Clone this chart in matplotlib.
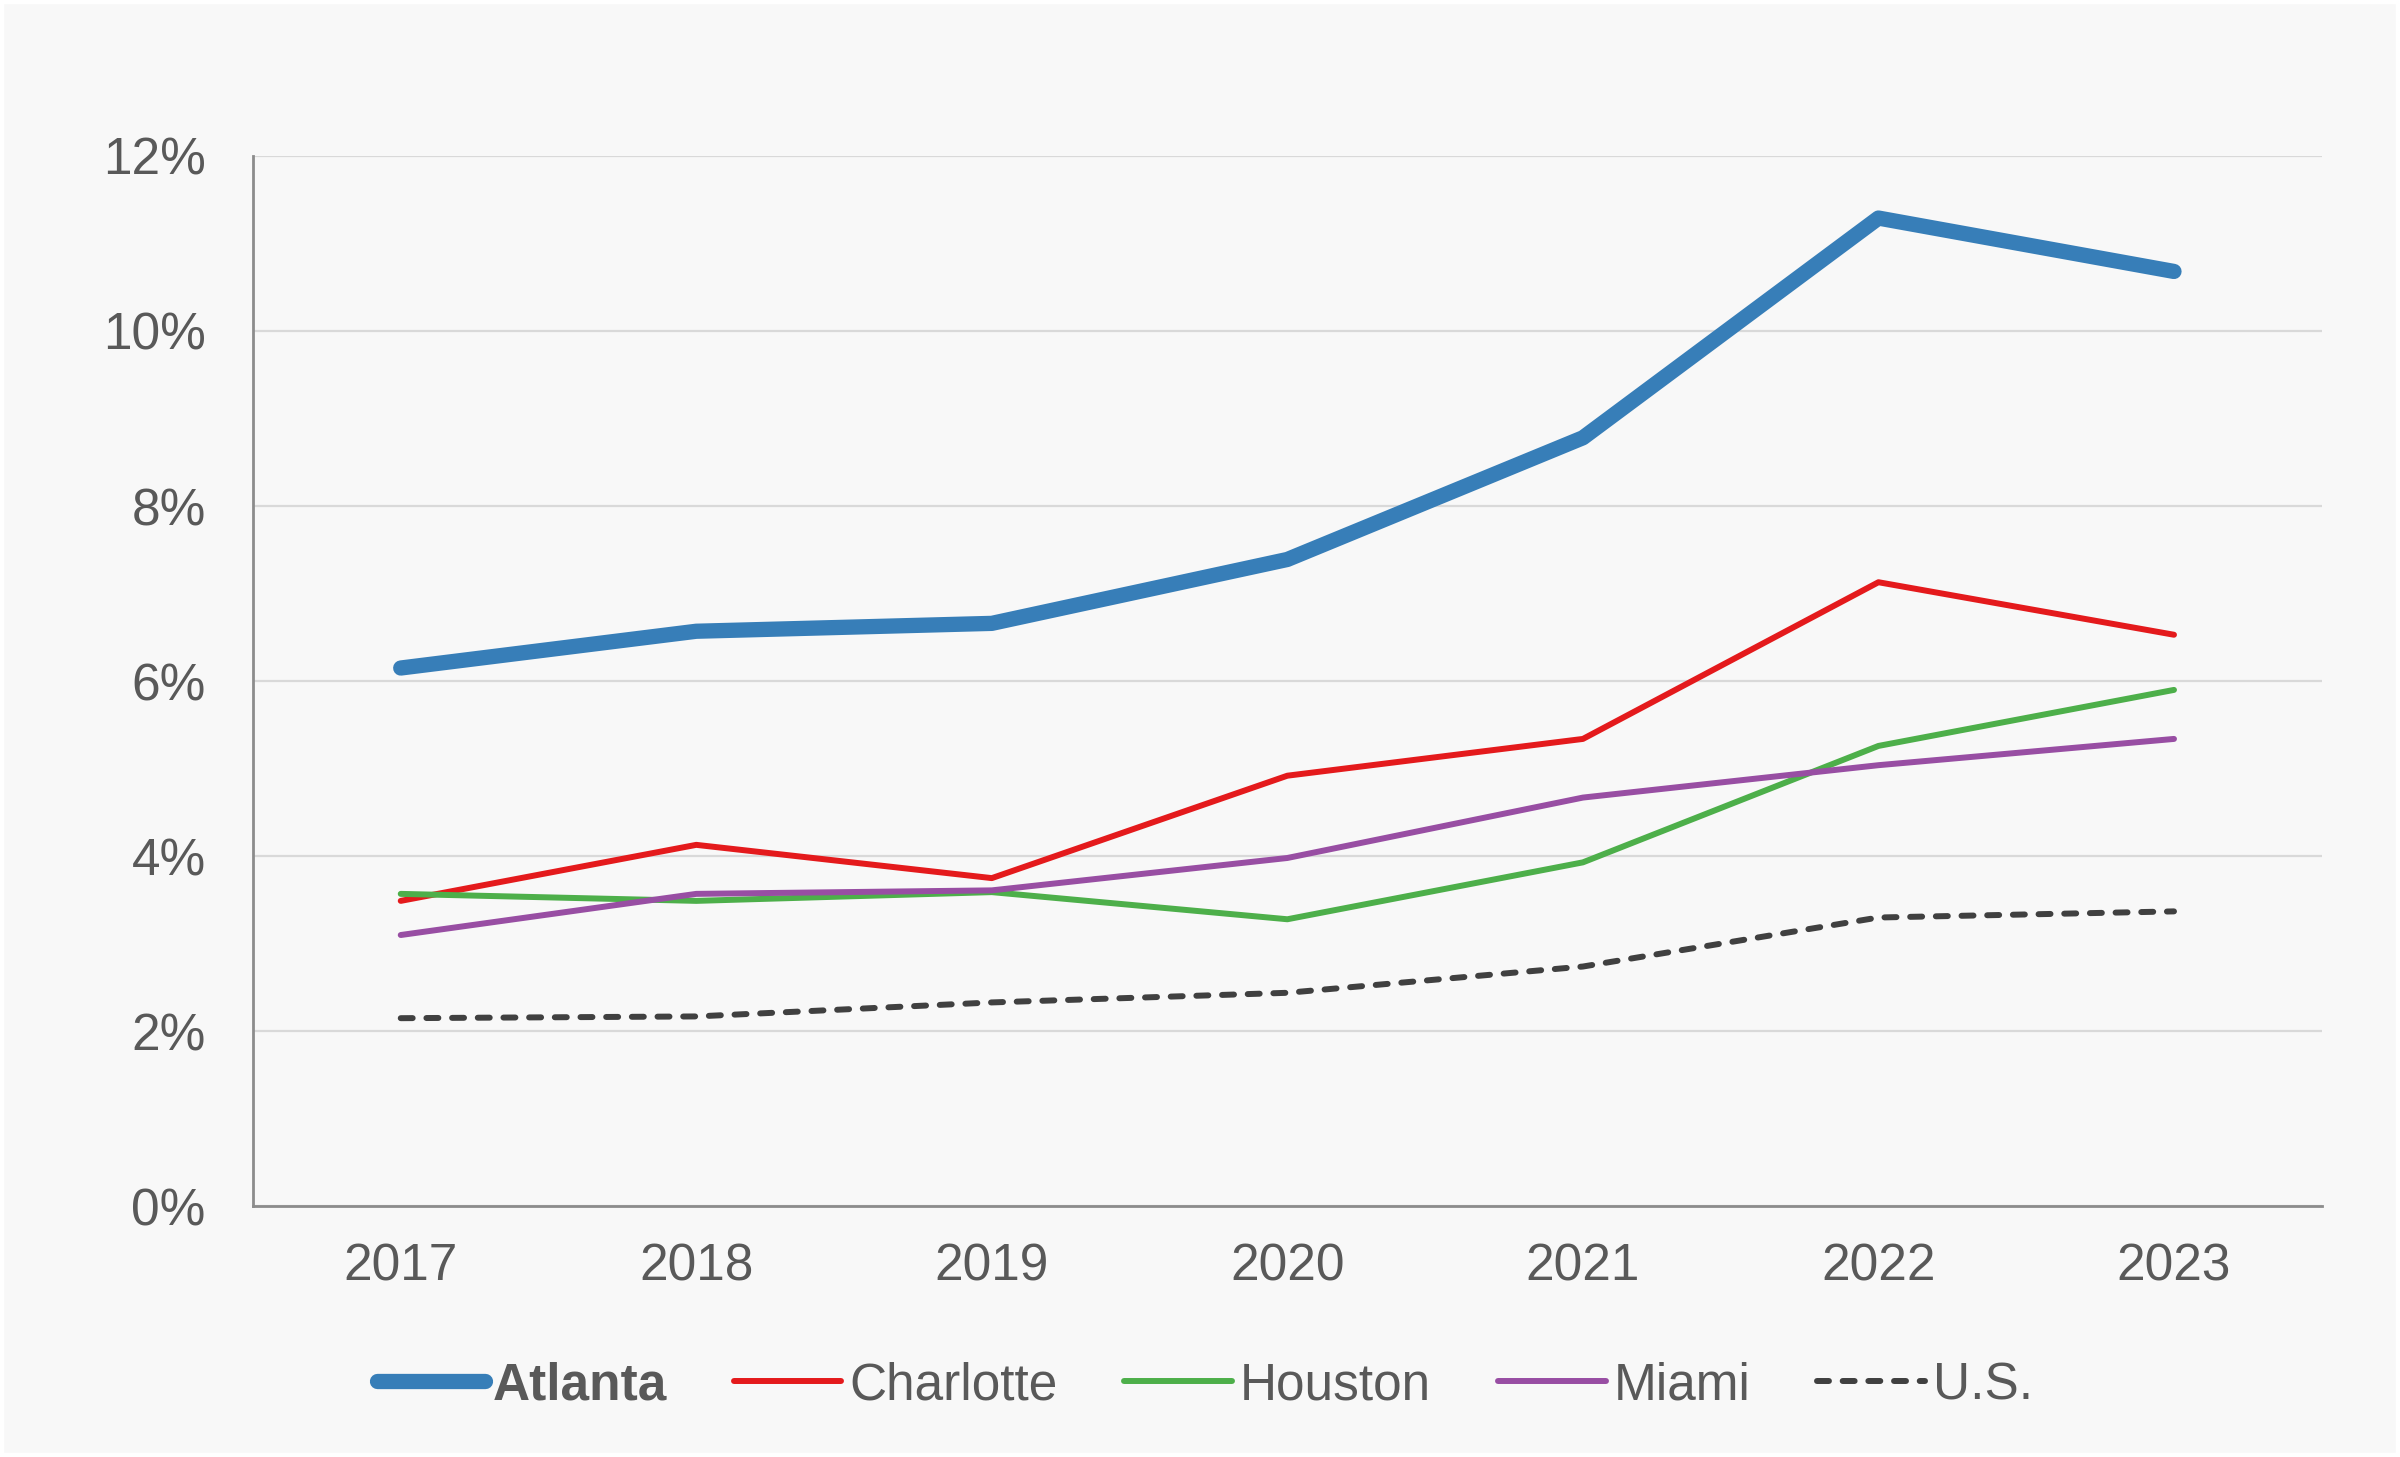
import numpy as np
import matplotlib.pyplot as plt
from matplotlib.ticker import FuncFormatter

plt.rcParams['font.family'] = ['Liberation Sans', 'DejaVu Sans']

years = ['2017', '2018', '2019', '2020', '2021', '2022', '2023']
atlanta = [6.15, 6.57, 6.66, 7.39, 8.78, 11.29, 10.68]
charlotte = [3.49, 4.13, 3.75, 4.92, 5.34, 7.13, 6.53]
houston = [3.57, 3.49, 3.59, 3.28, 3.93, 5.26, 5.90]
miami = [3.10, 3.57, 3.61, 3.98, 4.67, 5.04, 5.34]
us = [2.15, 2.17, 2.33, 2.44, 2.74, 3.30, 3.37]

bg = '#f8f8f8'
txt = '#595959'

fig = plt.figure(figsize=(24, 14.57), dpi=100, facecolor=bg)
ax = fig.add_axes([0.1054, 0.172, 0.862, 0.721])
ax.set_facecolor(bg)

x = np.arange(len(years))
thin = dict(lw=4.3, solid_capstyle='round', solid_joinstyle='round', zorder=4)
ax.plot(x, atlanta, color='#377eb8', lw=11, solid_capstyle='round',
        solid_joinstyle='round', label='Atlanta', zorder=5)
ax.plot(x, charlotte, color='#e41a1c', label='Charlotte', **thin)
ax.plot(x, houston, color='#4daf4a', label='Houston', **thin)
ax.plot(x, miami, color='#984ea3', label='Miami', **thin)
ax.plot(x, us, color='#404040', lw=4.3, ls=(0, (2, 2.3)),
        dash_capstyle='round', label='U.S.', zorder=4)

ax.set_xlim(-0.5, 6.5)
ax.set_ylim(0, 12)
ax.set_yticks(np.arange(0, 13, 2))
ax.yaxis.set_major_formatter(FuncFormatter(lambda v, p: f'{v:.0f}%'))
ax.set_xticks(x)
ax.set_xticklabels(years)
ax.grid(axis='y', color='#d9d9d9', lw=1.6)
ax.set_axisbelow(True)
for s in ['top', 'right']:
    ax.spines[s].set_visible(False)
for s in ['left', 'bottom']:
    ax.spines[s].set_color('#8c8c8c')
    ax.spines[s].set_linewidth(2)
ax.tick_params(axis='both', length=0, labelsize=37, colors=txt)
ax.tick_params(axis='y', pad=34)
ax.tick_params(axis='x', pad=26)

leg = fig.legend(loc='center', bbox_to_anchor=(0.502, 0.049), ncol=5,
                 frameon=False, fontsize=37, handlelength=2.1,
                 handletextpad=0.15, columnspacing=1.3)
for t in leg.get_texts():
    t.set_color(txt)
leg.get_texts()[0].set_fontweight('bold')

fig.patches.append(plt.Rectangle((0, 0), 1, 1, transform=fig.transFigure,
                                 fill=False, edgecolor='white', lw=6))

fig.savefig('out.png', dpi=100, facecolor=bg)
